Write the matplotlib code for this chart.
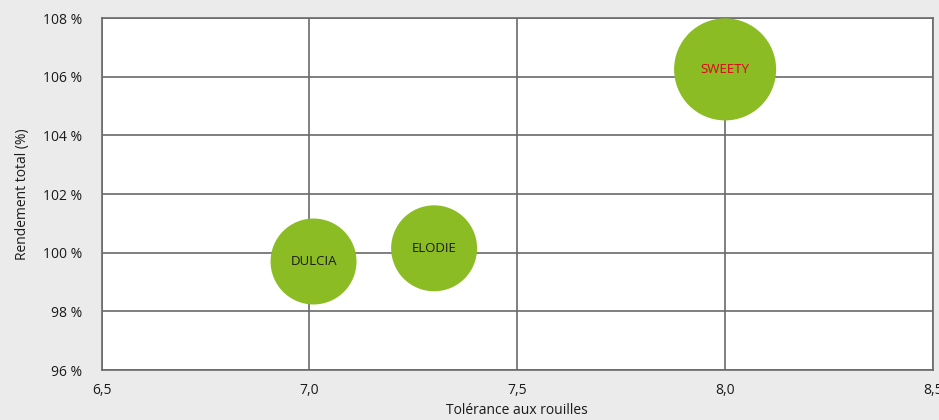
import matplotlib.pyplot as plt
from matplotlib.ticker import FuncFormatter, MultipleLocator

# Données
varietes = ["DULCIA", "ELODIE", "SWEETY"]
tolerance = [7.01, 7.30, 8.00]
rendement = [99.7, 100.15, 106.25]
taille = [1.0, 1.0, 1.41]
couleur_texte = ["#1a1a1a", "#1a1a1a", "#e2001a"]

plt.rcParams["font.family"] = ["Open Sans", "DejaVu Sans"]

fig = plt.figure(figsize=(9.39, 4.2), dpi=100, facecolor="#ebebeb")
ax = fig.add_axes([0.1081, 0.119, 0.8855, 0.838])
ax.set_facecolor("white")

grid_col = "#6a6a6a"
ax.scatter(tolerance, rendement, s=[t * 3830 for t in taille],
           color="#8bbc24", edgecolors="none", zorder=3)
for x, y, nom, c in zip(tolerance, rendement, varietes, couleur_texte):
    ax.text(x, y, nom, ha="center", va="center", fontsize=9.5,
            color=c, zorder=4)

ax.set_xlim(6.5, 8.5)
ax.set_ylim(96, 108)
ax.xaxis.set_major_locator(MultipleLocator(0.5))
ax.yaxis.set_major_locator(MultipleLocator(2))
ax.xaxis.set_major_formatter(FuncFormatter(lambda v, p: f"{v:.1f}".replace(".", ",")))
ax.yaxis.set_major_formatter(FuncFormatter(lambda v, p: f"{v:.0f} %"))
ax.grid(True, color=grid_col, linewidth=1.2, zorder=1)
ax.set_axisbelow(True)
for s in ax.spines.values():
    s.set_color(grid_col)
    s.set_linewidth(1.2)
ax.tick_params(length=0, labelsize=10, colors="#1a1a1a")
ax.tick_params(axis="y", pad=14)
ax.tick_params(axis="x", pad=9)

ax.set_xlabel("Tolérance aux rouilles", fontsize=10, color="#1a1a1a", labelpad=4)
ax.set_ylabel("Rendement total (%)", fontsize=10, color="#1a1a1a", labelpad=9)

fig.savefig("out.png", dpi=100, facecolor=fig.get_facecolor())
